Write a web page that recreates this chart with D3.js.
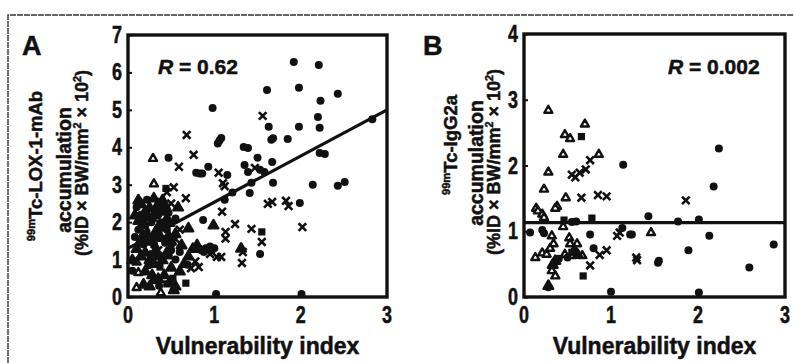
<!DOCTYPE html>
<html>
<head>
<meta charset="utf-8">
<script src="https://cdn.jsdelivr.net/npm/d3@7"></script>
<style>
  html, body { margin: 0; padding: 0; background: #fff; }
  svg { display: block; }
  text { font-family: "Liberation Sans", Arial, sans-serif; font-weight: bold; fill: #111; stroke: #111; stroke-width: 0.5px; }
</style>
</head>
<body>
<svg id="fig" width="794" height="363"></svg>
<script>
// ---- Panel A: 99mTc-LOX-1-mAb vs vulnerability index ----
const circlesA = [[1.92,6.28],[2.21,6.2],[1.61,5.53],[1.98,5.59],[2.43,5.43],[2.23,5.24],[0.98,5.05],[2.2,4.81],
  [1.63,4.55],[1.98,4.55],[2.22,4.52],[2.83,4.75],[1.04,4.1],[1.06,4.18],[1.08,4.25],[1.66,4.2],[1.68,4.24],
  [1.85,4.22],[1.34,4.01],[1.39,3.98],[0.47,3.72],[0.93,3.48],[0.79,3.32],[0.83,3.3],[0.86,3.3],[1.15,3.26],
  [1.5,3.72],[1.67,3.61],[1.35,3.53],[1.39,3.34],[1.58,3.34],[1.53,3.4],[2.22,3.85],[2.28,3.82],[1.43,3.05],
  [1.68,3.05],[1.41,2.78],[1.21,2.79],[1.12,2.6],[2.14,3.0],[2.43,2.97],[2.51,3.07],[1.99,2.51],[1.53,1.15],
  [2.01,0.08],[1.02,0.08],[0.87,2.06],[0.69,0.86],[0.9,1.3],[0.95,1.35],[1.0,1.3],[0.85,1.25],[0.78,1.35],
  [0.6,1.2],[0.55,1.0],[0.5,1.4],[0.45,1.8],[0.35,2.2],[0.1,2.4],[0.15,2.2],[0.22,2.6],[0.27,2.0],[0.32,1.3],
  [0.38,2.35],[0.43,1.45],[0.47,2.25],[0.12,1.8],[0.18,1.4],[0.24,0.85],[0.3,0.45],[0.36,0.3],[0.5,1.25],
  [0.55,2.1],[0.08,1.6],[0.05,0.7],[0.88,1.2],[0.82,1.3],[0.97,1.25],[0.42,1.55],[0.27,1.15],[0.2,1.5]];
const crossesA = [[1.56,4.84],[0.68,4.33],[0.76,3.8],[0.59,3.48],[1.05,3.32],[1.1,3.04],[1.12,2.96],[0.53,2.93],
  [0.67,2.64],[1.09,2.28],[1.13,1.74],[1.13,1.56],[1.08,1.07],[1.03,1.07],[0.82,0.8],[0.73,0.77],[1.47,3.45],
  [1.62,2.49],[1.67,2.54],[1.83,2.57],[1.86,2.43],[1.24,1.95],[1.43,1.82],[1.55,1.47],[2.02,1.87],[1.33,1.2],
  [1.32,0.91],[0.45,2.8],[0.5,2.5],[0.6,1.8],[0.55,1.55],[0.35,1.25],[0.3,2.1],[0.25,1.5],[0.95,1.15],[0.78,0.95]];
const openTrianglesA = [[0.29,3.72],[0.3,3.04],[0.12,0.67],[0.1,0.27],[0.38,0.13],[0.2,1.85],[0.15,1.55],[0.1,0.95]];
const filledTrianglesA = [[0.58,2.41],[0.99,1.93],[1.31,1.31],[0.12,2.6],[0.15,2.5],[0.2,2.3],[0.25,2.4],[0.3,2.2],
  [0.35,2.5],[0.4,2.3],[0.45,2.1],[0.18,2.0],[0.22,1.7],[0.28,1.5],[0.33,1.8],[0.38,1.6],[0.42,1.9],[0.48,2.0],
  [0.1,1.3],[0.15,1.1],[0.2,1.2],[0.25,1.0],[0.3,0.9],[0.35,1.1],[0.4,1.0],[0.45,1.2],[0.5,0.8],[0.2,0.7],
  [0.28,0.6],[0.35,0.5],[0.42,0.6],[0.48,0.4],[0.55,0.3],[0.53,0.2],[0.25,0.3],[0.18,0.35],[0.6,0.7],[0.65,0.9],
  [0.7,1.1],[0.75,1.3],[0.8,1.4],[0.62,1.4],[0.55,1.7],[0.5,1.5],[0.7,1.85],[0.4,2.6],[0.3,2.65],[0.08,2.2],[0.05,1.0],
  [0.12,2.05],[0.23,2.15],[0.33,2.35],[0.43,2.45],[0.17,1.65],[0.37,1.95],[0.47,1.65],[0.13,1.45],[0.32,1.6]];
const squaresA = [[0.44,2.9],[0.67,0.37],[1.55,1.74],[0.52,0.5],[0.45,0.35],[0.3,1.4],[0.2,1.9],[0.4,2.0],[0.47,1.1],[0.37,0.8]];
const fitA = [[0, 1.3], [3, 5.0]];

// ---- Panel B: 99mTc-IgG2a vs vulnerability index ----
const circlesB = [[1.14,2.01],[0.07,0.98],[0.21,1.02],[0.23,0.97],[0.76,0.95],[1.22,0.95],[1.13,1.05],[0.8,0.74],
  [0.55,1.14],[0.6,1.15],[2.24,2.26],[2.18,1.68],[1.43,1.23],[1.77,1.15],[2.01,1.18],[1.24,0.95],[2.13,0.93],
  [2.87,0.8],[1.89,0.71],[1.54,0.52],[1.55,0.55],[2.59,0.45],[2.01,0.07],[1.0,0.08],[0.28,0.15],[0.5,0.6],[0.4,0.58]];
const crossesB = [[0.76,2.08],[0.55,1.86],[0.59,1.82],[0.64,1.89],[0.71,1.94],[0.66,1.51],[0.85,1.55],[0.95,1.53],
  [1.1,0.98],[0.95,0.71],[0.87,0.64],[0.76,0.48],[1.3,0.56],[1.86,1.47],[1.29,0.6],[1.07,0.93]];
const openTrianglesB = [[0.28,2.85],[0.7,2.64],[0.47,2.48],[0.53,2.42],[0.45,2.18],[0.86,2.18],[0.28,1.91],[0.23,1.65],
  [0.48,1.52],[0.38,1.39],[0.36,1.36],[0.14,1.36],[0.16,1.32],[0.21,1.27],[0.23,1.22],[1.46,0.99],[0.32,0.94],
  [0.34,0.82],[0.52,0.91],[0.53,0.82],[0.61,0.82],[0.13,0.61],[0.21,0.68],[0.26,0.66],[0.47,0.66],[0.55,0.64],
  [0.67,0.64],[0.32,0.41],[0.36,0.33],[0.45,1.08],[0.3,0.75]];
const filledTrianglesB = [[0.36,0.56],[0.33,0.5],[0.28,0.18],[0.58,0.72],[0.62,0.65]];
const squaresB = [[0.66,2.44],[0.68,0.32],[0.46,1.17],[0.78,1.2],[0.55,0.68]];
const fitB = [[0, 1.13], [3, 1.13]];

// ---- Axis ticks and labels ----
const xTicks = [0, 1, 2, 3];
const yTicksA = [0, 1, 2, 3, 4, 5, 6, 7];
const yTicksB = [0, 1, 2, 3, 4];
const xTitle = "Vulnerability index";
const rLabelA = "0.62";
const rLabelB = "0.002";

const svg = d3.select("#fig");

// outer figure frame (top and left edges)
svg.append("path")
  .attr("d", "M8,363 L8,15 L794,15")
  .attr("fill", "none").attr("stroke", "#333").attr("stroke-width", 1.4)
  .attr("stroke-dasharray", "6,1");

function marker(g, type, pts, x, y) {
  const sel = g.append("g");
  if (type === "circle") {
    sel.selectAll("circle").data(pts).join("circle")
      .attr("cx", d => x(d[0])).attr("cy", d => y(d[1])).attr("r", 4).attr("fill", "#111");
  } else if (type === "cross") {
    const s = 3.8;
    sel.selectAll("path").data(pts).join("path")
      .attr("d", d => `M${x(d[0]) - s},${y(d[1]) - s}L${x(d[0]) + s},${y(d[1]) + s}M${x(d[0]) - s},${y(d[1]) + s}L${x(d[0]) + s},${y(d[1]) - s}`)
      .attr("stroke", "#111").attr("stroke-width", 2.6).attr("fill", "none");
  } else if (type === "openTri" || type === "filledTri") {
    const sym = d3.symbol(d3.symbolTriangle, type === "openTri" ? 28 : 40);
    sel.selectAll("path").data(pts).join("path")
      .attr("transform", d => `translate(${x(d[0])},${y(d[1]) + 0.8})`)
      .attr("d", sym)
      .attr("fill", type === "openTri" ? "#fff" : "#111")
      .attr("stroke", "#111").attr("stroke-width", 2.4).attr("stroke-linejoin", "round");
  } else if (type === "square") {
    sel.selectAll("rect").data(pts).join("rect")
      .attr("x", d => x(d[0]) - 3.6).attr("y", d => y(d[1]) - 3.6)
      .attr("width", 7.2).attr("height", 7.2).attr("fill", "#111");
  }
}

function panel(cfg) {
  const g = svg.append("g");
  const x = d3.scaleLinear().domain([0, 3]).range([cfg.left, cfg.right]);
  const y = d3.scaleLinear().domain([0, cfg.ymax]).range([cfg.bottom, cfg.top]);

  // inward tick marks on the left axis, labels placed outside (narrow heavy digits)
  const yAxis = d3.axisRight(y).tickValues(cfg.yTicks).tickSize(4).tickFormat("");
  g.append("g").attr("transform", `translate(${cfg.left},0)`).call(yAxis)
    .call(s => s.select(".domain").remove())
    .call(s => s.selectAll("line").attr("stroke", "#111").attr("stroke-width", 2));
  g.append("g").selectAll("text").data(cfg.yTicks).join("text")
    .attr("transform", d => `translate(${cfg.left - 6},${y(d) + 8}) scale(0.78,1)`)
    .attr("text-anchor", "end").attr("font-size", 23).text(d => d);

  const xAxis = d3.axisBottom(x).tickValues(xTicks).tickSize(0).tickFormat("");
  g.append("g").attr("transform", `translate(0,${cfg.bottom})`).call(xAxis)
    .call(s => s.select(".domain").remove());
  g.append("g").selectAll("text").data(xTicks).join("text")
    .attr("transform", d => `translate(${x(d)},${cfg.bottom + 26}) scale(0.78,1)`)
    .attr("text-anchor", "middle").attr("font-size", 23).text(d => d);

  // data markers
  marker(g, "openTri", cfg.openTri, x, y);
  marker(g, "filledTri", cfg.filledTri, x, y);
  marker(g, "square", cfg.squares, x, y);
  marker(g, "circle", cfg.circles, x, y);
  marker(g, "cross", cfg.crosses, x, y);

  // regression line
  g.append("path").datum(cfg.fit)
    .attr("d", d3.line().x(d => x(d[0])).y(d => y(d[1])))
    .attr("stroke", "#111").attr("stroke-width", 3.2).attr("fill", "none");

  // plot frame
  g.append("rect")
    .attr("x", cfg.left).attr("y", cfg.top)
    .attr("width", cfg.right - cfg.left).attr("height", cfg.bottom - cfg.top)
    .attr("fill", "none").attr("stroke", "#111").attr("stroke-width", 3.4);

  // correlation label
  const r = g.append("text").attr("x", cfg.rx).attr("y", cfg.ry).attr("font-size", 21);
  r.append("tspan").attr("font-style", "italic").text("R");
  r.append("tspan").text(" = " + cfg.r);

  // axis title
  g.append("text").attr("x", (cfg.left + cfg.right) / 2).attr("y", 354)
    .attr("text-anchor", "middle").attr("font-size", 23).text(xTitle);

  // panel letter
  g.append("text").attr("x", cfg.letterX).attr("y", 55).attr("font-size", 27).text(cfg.letter);

  // y-axis title (three rotated lines)
  const yt = g.append("g");
  cfg.yTitle.forEach(ln => {
    const t = yt.append("text")
      .attr("transform", `translate(${ln.x},${ln.cy}) rotate(-90)`)
      .attr("text-anchor", "middle").attr("font-size", ln.size);
    ln.parts.forEach(p => {
      const ts = t.append("tspan").text(p.t);
      if (p.sup) ts.attr("font-size", ln.size * 0.6).attr("dy", -ln.size * 0.38);
      if (p.down) ts.attr("dy", ln.size * 0.38);
    });
  });
}

panel({
  letter: "A", letterX: 22, left: 128, right: 387, top: 35, bottom: 297, ymax: 7, yTicks: yTicksA,
  circles: circlesA, crosses: crossesA, openTri: openTrianglesA, filledTri: filledTrianglesA, squares: squaresA,
  fit: fitA, r: rLabelA, rx: 158, ry: 74,
  yTitle: [
    { x: 42, cy: 166, size: 18.5, parts: [{ t: "99m", sup: true }, { t: "Tc-LOX-1-mAb", down: true }] },
    { x: 71, cy: 170, size: 19.5, parts: [{ t: "accumulation" }] },
    { x: 88, cy: 163, size: 18, parts: [{ t: "(%ID × BW/mm" }, { t: "2", sup: true }, { t: " × 10", down: true }, { t: "2", sup: true }, { t: ")", down: true }] }
  ]
});

panel({
  letter: "B", letterX: 423, left: 524, right: 785, top: 34, bottom: 297, ymax: 4, yTicks: yTicksB,
  circles: circlesB, crosses: crossesB, openTri: openTrianglesB, filledTri: filledTrianglesB, squares: squaresB,
  fit: fitB, r: rLabelB, rx: 668, ry: 74,
  yTitle: [
    { x: 457, cy: 145, size: 18.5, parts: [{ t: "99m", sup: true }, { t: "Tc-IgG2a", down: true }] },
    { x: 483, cy: 163, size: 19.5, parts: [{ t: "accumulation" }] },
    { x: 500, cy: 162, size: 18, parts: [{ t: "(%ID × BW/mm" }, { t: "2", sup: true }, { t: " × 10", down: true }, { t: "2", sup: true }, { t: ")", down: true }] }
  ]
});
</script>
</body>
</html>
